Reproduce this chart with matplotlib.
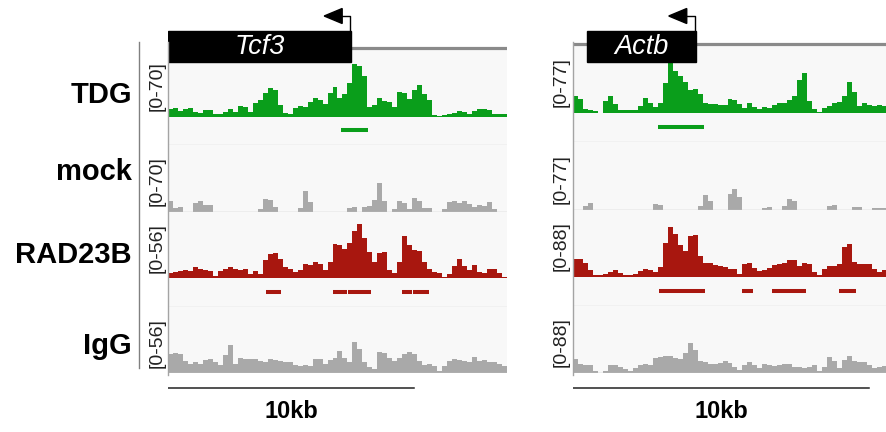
"""Genome browser style tracks at Tcf3 and Actb (TDG / mock / RAD23B / IgG)."""

import matplotlib
matplotlib.use("Agg")
import matplotlib.pyplot as plt
import numpy as np
from matplotlib.patches import Rectangle, Polygon

plt.rcParams["font.family"] = ["Liberation Sans", "DejaVu Sans"]

W, H = 887, 432

GREEN = "#0a9e1b"
RED = "#a8170f"
GRAY = "#a9a9a9"
BG = "#f8f8f8"

# --- data, signal per ~0.2 kb bin -------------------------------------------
track_names = ["TDG", "mock", "RAD23B", "IgG"]
tcf3_ranges = [70, 70, 56, 56]
actb_ranges = [77, 77, 88, 88]

tdg_tcf3 = [8, 9, 6, 8, 9, 5, 4, 7, 7, 3, 3, 5, 8, 5, 11, 10, 5, 14, 17, 25,
            30, 28, 12, 4, 3, 9, 11, 10, 15, 20, 17, 13, 25, 31, 20, 24, 35, 55, 52, 42,
            10, 12, 20, 16, 15, 10, 26, 25, 19, 28, 33, 24, 18, 2, 1, 2, 3, 4, 6, 5,
            3, 6, 8, 8, 7, 3, 3, 3]
mock_tcf3 = [11, 4, 5, 0, 0, 9, 11, 7, 7, 0, 0, 0, 0, 0, 0, 0, 0, 0, 3, 14,
             13, 5, 0, 0, 0, 0, 4, 22, 10, 0, 0, 0, 0, 0, 0, 0, 4, 5, 0, 5,
             6, 13, 30, 12, 0, 3, 12, 9, 3, 15, 12, 4, 4, 0, 0, 3, 10, 11, 9, 12,
             8, 5, 7, 6, 10, 3, 0, 0]
rad23b_tcf3 = [4, 5, 6, 7, 6, 9, 8, 7, 6, 2, 6, 8, 9, 8, 7, 8, 3, 6, 3, 15,
               20, 21, 16, 9, 8, 5, 7, 12, 11, 14, 12, 7, 14, 29, 28, 25, 30, 40, 46, 34,
               22, 14, 21, 22, 7, 4, 14, 36, 28, 24, 23, 14, 8, 5, 4, 1, 3, 10, 16, 10,
               7, 11, 5, 4, 8, 8, 4, 1]
igg_tcf3 = [16, 17, 16, 10, 8, 9, 8, 11, 12, 9, 7, 15, 24, 8, 13, 12, 12, 12, 10, 9,
            12, 11, 10, 9, 9, 7, 6, 7, 6, 12, 12, 8, 11, 13, 19, 13, 9, 26, 20, 9,
            5, 3, 18, 17, 13, 10, 13, 16, 18, 16, 10, 7, 8, 6, 2, 6, 10, 12, 11, 10,
            9, 14, 10, 11, 9, 9, 8, 6]

tdg_actb = [19, 16, 5, 3, 2, 0, 14, 19, 10, 4, 3, 4, 4, 8, 17, 12, 7, 11, 35, 59,
            48, 42, 36, 26, 28, 22, 12, 10, 10, 9, 9, 16, 15, 10, 6, 12, 7, 5, 7, 6,
            9, 11, 12, 15, 20, 38, 46, 14, 5, 1, 6, 8, 11, 13, 20, 36, 24, 8, 11, 9,
            8, 9, 8]
mock_actb = [0, 0, 5, 8, 0, 0, 0, 0, 0, 0, 0, 0, 0, 0, 0, 0, 7, 6, 0, 0,
             0, 0, 0, 0, 0, 5, 17, 10, 0, 0, 0, 18, 24, 15, 0, 0, 0, 0, 2, 3,
             0, 0, 4, 12, 10, 0, 0, 0, 0, 0, 0, 5, 6, 0, 0, 0, 3, 3, 0, 0,
             2, 2, 2]
rad23b_actb = [24, 23, 18, 9, 2, 2, 4, 7, 9, 5, 2, 2, 4, 8, 10, 9, 6, 13, 45, 66,
               56, 42, 34, 54, 55, 28, 18, 19, 16, 15, 13, 11, 10, 4, 17, 18, 12, 8, 9, 12,
               16, 17, 19, 22, 22, 15, 18, 17, 7, 3, 10, 14, 14, 17, 40, 44, 20, 17, 17, 17,
               10, 7, 9]
igg_actb = [18, 12, 10, 10, 3, 0, 3, 11, 11, 8, 5, 3, 7, 11, 12, 11, 20, 21, 22, 22,
            20, 18, 26, 39, 30, 16, 15, 12, 12, 13, 16, 13, 8, 4, 11, 15, 10, 6, 12, 11,
            9, 10, 12, 12, 8, 8, 6, 8, 10, 2, 8, 21, 16, 6, 17, 22, 16, 15, 15, 11,
            6, 8, 9]

# called peaks (kb from left edge of window)
tdg_tcf3_peaks = [(7.03, 8.13)]
rad23b_tcf3_peaks = [(3.98, 4.58), (6.72, 7.26), (7.30, 8.24), (9.50, 9.91), (9.95, 10.62)]
tdg_actb_peaks = [(2.87, 4.42)]
rad23b_actb_peaks = [(2.90, 4.45), (5.70, 6.08), (6.72, 7.88), (8.98, 9.54)]

# gene models: (start kb, end kb, TSS kb), both on minus strand
tcf3_gene = (-0.02, 7.44, 7.40)
actb_gene = (0.46, 4.14, 4.11)

SCALE_KB = 10

# --- layout (pixels) --------------------------------------------------------
PANELS = [
    dict(gene="Tcf3", model=tcf3_gene, span=13.77, x0=168, x1=507, gene_y=48,
         rows=[(49, 117), (117, 145), (145, 212), (212, 278), (278, 307), (307, 373)],
         signals=[tdg_tcf3, mock_tcf3, rad23b_tcf3, igg_tcf3],
         ranges=tcf3_ranges, peaks=[tdg_tcf3_peaks, rad23b_tcf3_peaks], range_x=157),
    dict(gene="Actb", model=actb_gene, span=10.6, x0=573, x1=887, gene_y=44,
         rows=[(46, 113), (113, 142), (142, 210), (210, 277), (277, 306), (306, 373)],
         signals=[tdg_actb, mock_actb, rad23b_actb, igg_actb],
         ranges=actb_ranges, peaks=[tdg_actb_peaks, rad23b_actb_peaks], range_x=561),
]
COLORS = [GREEN, GRAY, RED, GRAY]

fig = plt.figure(figsize=(W / 100, H / 100), dpi=100)


def px_axes(x0, y0, x1, y1):
    ax = fig.add_axes([x0 / W, 1 - y1 / H, (x1 - x0) / W, (y1 - y0) / H])
    for s in ax.spines.values():
        s.set_visible(False)
    ax.set_xticks([])
    ax.set_yticks([])
    return ax


def draw_panel(p):
    span = p["span"]
    data_rows = [p["rows"][0], p["rows"][2], p["rows"][3], p["rows"][5]]
    feat_rows = [p["rows"][1], p["rows"][4]]

    for i, (vals, (y0, y1)) in enumerate(zip(p["signals"], data_rows)):
        ax = px_axes(p["x0"], y0, p["x1"], y1)
        ax.set_facecolor(BG)
        edges = np.linspace(0, span, len(vals) + 1)
        ax.stairs(vals, edges, fill=True, color=COLORS[i], lw=0)
        ax.set_xlim(0, span)
        ax.set_ylim(0, p["ranges"][i])
        if track_names[i] in ("mock", "IgG"):
            ax.axhline(0, color="#c4c4c4", lw=1)

    for k, (y0, y1) in enumerate(feat_rows):
        ax = px_axes(p["x0"], y0, p["x1"], y1)
        ax.set_facecolor(BG)
        col = GREEN if k == 0 else RED
        for s, e in p["peaks"][k]:
            ax.hlines(0.52, s, e, color=col, lw=2.9)
        ax.axhline(0, color="#d6d6d6", lw=1)
        ax.set_xlim(0, span)
        ax.set_ylim(0, 1)

    # gene model row (pixel y)
    gx = px_axes(p["x0"], 0, p["x1"], 70)
    gx.patch.set_visible(False)
    gx.set_xlim(0, span)
    gx.set_ylim(70, 0)
    kpp = span / (p["x1"] - p["x0"])
    start, end, tss = p["model"]
    gx.plot([0, span], [p["gene_y"], p["gene_y"]], color="#8a8a8a", lw=2.3,
            solid_capstyle="butt")
    gx.add_patch(Rectangle((start, 31), end - start, 31, color="black", zorder=3))
    gx.text((start + end) / 2, 47, p["gene"], color="white", style="italic",
            fontsize=19.5, ha="center", va="center", zorder=4)
    base = tss - 8 * kpp
    tip = tss - 26 * kpp
    gx.plot([tss, tss, base], [31, 16, 16], color="black", lw=1, zorder=3)
    gx.add_patch(Polygon([(tip, 16), (base, 8.5), (base, 23.5)], closed=True,
                         color="black", zorder=3))

    # scale bar
    sx = px_axes(p["x0"], 378, p["x1"], 432)
    sx.patch.set_visible(False)
    sx.set_xlim(0, span)
    sx.set_ylim(432, 378)
    sx.plot([0, SCALE_KB], [388, 388], color="#222222", lw=1.1)
    sx.text(SCALE_KB / 2, 412, f"{SCALE_KB}kb", fontsize=17, fontweight="bold",
            ha="center", va="center")


for p in PANELS:
    draw_panel(p)

# overlay for labels and frame lines, pixel coordinates
ov = fig.add_axes([0, 0, 1, 1])
ov.set_xlim(0, W)
ov.set_ylim(H, 0)
ov.axis("off")

label_y = [95, 172, 255, 346]
for name, y in zip(track_names, label_y):
    ov.text(132, y, name, fontsize=21, fontweight="bold", ha="right", va="center")

ov.plot([139, 139], [42, 368], color="#808080", lw=1)
for p in PANELS:
    ov.plot([p["x0"], p["x0"]], [42, 375], color="#a4a4a4", lw=1)
    data_rows = [p["rows"][0], p["rows"][2], p["rows"][3], p["rows"][5]]
    for rng, (y0, y1) in zip(p["ranges"], data_rows):
        ov.text(p["range_x"], (y0 + y1) / 2 + 3, f"[0-{rng}]", rotation=90,
                fontsize=14, ha="center", va="center", color="#222222")

fig.savefig("out.png", dpi=100)
print("Saved to out.png")
